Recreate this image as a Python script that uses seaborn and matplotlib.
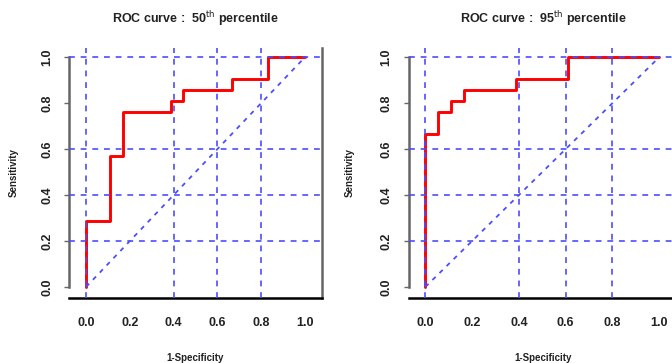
import numpy as np
import matplotlib
matplotlib.use("Agg")
import matplotlib.pyplot as plt
import seaborn as sns
import pandas as pd

# ROC points (1-specificity, sensitivity)
fpr_50 = [0.0, 0.0, 0.111, 0.111, 0.167, 0.167, 0.389, 0.389, 0.444, 0.444, 0.667, 0.667, 0.833, 0.833, 1.0]
tpr_50 = [0.0, 0.286, 0.286, 0.571, 0.571, 0.762, 0.762, 0.810, 0.810, 0.857, 0.857, 0.905, 0.905, 1.0, 1.0]

fpr_95 = [0.0, 0.0, 0.056, 0.056, 0.111, 0.111, 0.167, 0.167, 0.389, 0.389, 0.611, 0.611, 1.0]
tpr_95 = [0.0, 0.667, 0.667, 0.762, 0.762, 0.810, 0.810, 0.857, 0.857, 0.905, 0.905, 1.0, 1.0]

titles = ["ROC curve :  50$^{\\mathrm{th}}$ percentile",
          "ROC curve :  95$^{\\mathrm{th}}$ percentile"]
ticks = [0.0, 0.2, 0.4, 0.6, 0.8, 1.0]
tick_labels = ["0.0", "0.2", "0.4", "0.6", "0.8", "1.0"]
vgrid = [0.0, 0.4, 0.6, 0.8]
hgrid = [0.2, 0.4, 0.6, 1.0]
chance = [0.0, 1.0]

sns.set_style("white")
plt.rcParams["font.family"] = ["Liberation Sans", "DejaVu Sans"]
plt.rcParams["mathtext.default"] = "regular"

fig = plt.figure(figsize=(6.72, 3.63), dpi=100)
W, H = 672.0, 363.0
# axes boxes in pixels: (left, bottom, width, height), xlim
panels = [
    ((69, 65, 253, 250), (-0.078, 1.078)),
    ((408.7, 65, 269, 250), (-0.071, 1.079)),
]
curves = [(fpr_50, tpr_50), (fpr_95, tpr_95)]
grid_col = "#4d4dff"

for (box, xlim), (fpr, tpr), title in zip(panels, curves, titles):
    l, b, w, h = box
    ax = fig.add_axes([l / W, b / H, w / W, h / H])
    df = pd.DataFrame({"fpr": fpr, "tpr": tpr})
    sns.lineplot(data=df, x="fpr", y="tpr", sort=False, estimator=None,
                 color="red", lw=2.1, ax=ax, zorder=2)
    sns.lineplot(x=chance, y=chance, color=grid_col, lw=1.3, ax=ax,
                 dashes=False, zorder=3).lines[-1].set_dashes((2.5, 3.0))
    for gx in vgrid:
        ax.axvline(gx, color=grid_col, lw=1.2, dashes=(3.5, 3.5), zorder=3)
    for gy in hgrid:
        ax.axhline(gy, color=grid_col, lw=1.2, dashes=(3.5, 3.5), zorder=3)

    ax.set_xlim(*xlim)
    ax.set_ylim(-0.048, 1.04)
    ax.set_xticks(ticks)
    ax.set_xticklabels(tick_labels)
    ax.set_yticks(ticks)
    ax.set_yticklabels(tick_labels, rotation=90, va="center")
    ax.tick_params(axis="x", length=0, pad=14, labelsize=9, labelcolor="#222222")
    ax.tick_params(axis="y", length=3.5, width=1, color="#666666", pad=8,
                   labelsize=9, labelcolor="#222222", left=True)
    for lab in ax.get_xticklabels() + ax.get_yticklabels():
        lab.set_fontweight("bold")

    ax.spines["top"].set_visible(False)
    ax.spines["left"].set_color("#666666")
    ax.spines["left"].set_linewidth(1.8)
    ax.spines["left"].set_bounds(0.0, 1.0)
    ax.spines["right"].set_color("#666666")
    ax.spines["right"].set_linewidth(1.8)
    ax.spines["bottom"].set_color("black")
    ax.spines["bottom"].set_linewidth(1.8)

    ax.set_xlabel("1-Specificity", fontsize=7, fontweight="bold", color="#222222")
    ax.set_ylabel("Sensitivity", fontsize=7, fontweight="bold", color="#222222")
    ax.xaxis.set_label_coords(0.5, -0.22)
    ax.yaxis.set_label_coords(-0.2, 0.5)
    ax.set_title(title, fontsize=9, fontweight="bold", color="#222222", y=1.1, pad=0)

fig.savefig("out.png", dpi=100)
